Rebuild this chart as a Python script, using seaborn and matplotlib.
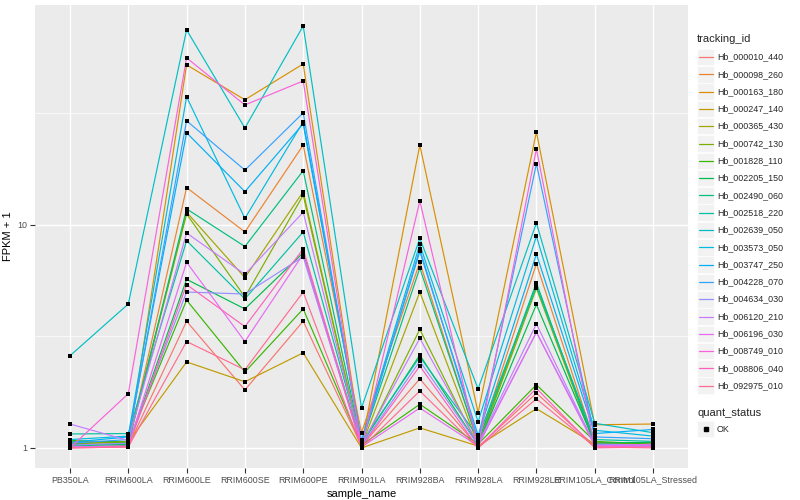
import matplotlib
matplotlib.use("Agg")
import matplotlib.pyplot as plt
import seaborn as sns
import pandas as pd
from matplotlib.patches import Rectangle
from matplotlib.ticker import FixedLocator, NullFormatter

# ---- datos (FPKM + 1) ----
sample_names = ["PB350LA", "RRIM600LA", "RRIM600LE", "RRIM600SE", "RRIM600PE",
                "RRIM901LA", "RRIM928BA", "RRIM928LA", "RRIM928LE",
                "RRIM105LA_Control", "RRIM105LA_Stressed"]

tracking_ids = ["Hb_000010_440", "Hb_000098_260", "Hb_000163_180", "Hb_000247_140",
                "Hb_000365_430", "Hb_000742_130", "Hb_001828_110", "Hb_002205_150",
                "Hb_002490_060", "Hb_002518_220", "Hb_002639_050", "Hb_003573_050",
                "Hb_003747_250", "Hb_004228_070", "Hb_004634_030", "Hb_006120_210",
                "Hb_006196_030", "Hb_008749_010", "Hb_008806_040", "Hb_092975_010"]

hb_000010_440 = [1.01, 1.02, 3.7, 1.82, 3.7, 1.02, 2.04, 1.01, 1.76, 1.02, 1.03]
hb_000098_260 = [1.03, 1.04, 14.7, 9.3, 22.8, 1.17, 6.8, 1.05, 6.7, 1.06, 1.04]
hb_000163_180 = [1.05, 1.03, 52.2, 36.4, 52.7, 1.03, 22.8, 1.44, 26.1, 1.27, 1.28]
hb_000247_140 = [1.07, 1.06, 2.43, 1.98, 2.67, 1.00, 1.23, 1.02, 1.50, 1.04, 1.06]
hb_000365_430 = [1.04, 1.07, 11.4, 5.8, 14.1, 1.02, 5.0, 1.03, 5.4, 1.05, 1.03]
hb_000742_130 = [1.06, 1.05, 11.2, 4.75, 13.6, 1.01, 3.4, 1.02, 5.2, 1.03, 1.05]
hb_001828_110 = [1.08, 1.06, 4.6, 2.19, 4.2, 1.03, 1.57, 1.04, 1.92, 1.07, 1.04]
hb_002205_150 = [1.04, 1.03, 5.7, 4.2, 7.5, 1.04, 2.61, 1.03, 4.4, 1.05, 1.06]
hb_002490_060 = [1.02, 1.04, 11.8, 8.0, 17.5, 1.05, 6.4, 1.06, 5.5, 1.04, 1.02]
hb_002518_220 = [1.155, 1.16, 8.5, 4.66, 9.3, 1.06, 2.56, 1.12, 5.3, 1.09, 1.07]
hb_002639_050 = [2.59, 4.42, 74.9, 27.2, 78.0, 1.51, 8.7, 1.84, 10.2, 1.29, 1.17]
hb_003573_050 = [1.09, 1.13, 37.5, 10.7, 29.0, 1.08, 8.2, 1.31, 8.9, 1.20, 1.13]
hb_003747_250 = [1.06, 1.12, 25.9, 14.1, 28.4, 1.06, 7.6, 1.14, 7.4, 1.16, 1.21]
hb_004228_070 = [1.05, 1.09, 29.3, 17.6, 31.8, 1.04, 7.8, 1.09, 18.8, 1.12, 1.10]
hb_004634_030 = [1.03, 1.05, 5.0, 4.9, 7.2, 1.02, 2.45, 1.03, 3.3, 1.04, 1.03]
hb_006120_210 = [1.28, 1.08, 9.2, 6.0, 11.4, 1.03, 3.1, 1.04, 3.6, 1.03, 1.02]
hb_006196_030 = [1.01, 1.02, 6.8, 3.0, 7.4, 1.01, 1.51, 1.02, 3.3, 1.02, 1.04]
hb_008749_010 = [1.00, 1.75, 56.1, 34.5, 44.2, 1.00, 12.8, 1.01, 21.9, 1.01, 1.02]
hb_008806_040 = [1.00, 1.01, 5.4, 3.5, 7.8, 1.01, 2.33, 1.00, 1.85, 1.00, 1.01]
hb_092975_010 = [1.00, 1.01, 3.0, 2.24, 5.0, 1.00, 1.80, 1.00, 1.66, 1.01, 1.00]

series = [hb_000010_440, hb_000098_260, hb_000163_180, hb_000247_140, hb_000365_430,
          hb_000742_130, hb_001828_110, hb_002205_150, hb_002490_060, hb_002518_220,
          hb_002639_050, hb_003573_050, hb_003747_250, hb_004228_070, hb_004634_030,
          hb_006120_210, hb_006196_030, hb_008749_010, hb_008806_040, hb_092975_010]

# paleta hue de ggplot para 20 niveles
colors = ["#F8766D", "#EA8331", "#D89000", "#C09B00", "#A3A500", "#7CAE00", "#39B600",
          "#00BB4E", "#00BF7D", "#00C1A3", "#00BFC4", "#00BAE0", "#00B0F6", "#35A2FF",
          "#9590FF", "#C77CFF", "#E76BF3", "#FA62DB", "#FF62BC", "#FF6C91"]

rows = []
for tid, vals in zip(tracking_ids, series):
    for i, (s, v) in enumerate(zip(sample_names, vals)):
        rows.append({"tracking_id": tid, "sample_name": s, "pos": i,
                     "fpkm": v, "quant_status": "OK"})
df = pd.DataFrame(rows)

# ---- estilo ----
sns.set_theme(style="darkgrid")
plt.rcParams["font.family"] = ["Liberation Sans", "DejaVu Sans"]

fig = plt.figure(figsize=(8, 5), dpi=100)
ax = fig.add_axes([35 / 800, 32 / 500, 653 / 800, 463 / 500])
ax.set_facecolor("#EBEBEB")

sns.lineplot(data=df, x="pos", y="fpkm", hue="tracking_id", palette=colors,
             estimator=None, linewidth=0.85, legend=False, ax=ax, zorder=2)
sns.scatterplot(data=df, x="pos", y="fpkm", color="black", marker="s", s=10,
                linewidth=0, legend=False, ax=ax, zorder=3)

ax.set_yscale("log")
ax.set_ylim(10 ** -0.09, 10 ** 1.986)
ax.set_xlim(-0.6, len(sample_names) - 0.4)
ax.set_xticks(range(len(sample_names)))
ax.set_xticklabels(sample_names)
ax.set_yticks([1, 10])
ax.set_yticklabels(["1", "10"])
ax.yaxis.set_minor_locator(FixedLocator([10 ** 0.5, 10 ** 1.5]))
ax.yaxis.set_minor_formatter(NullFormatter())

ax.grid(which="major", color="white", linewidth=1.0)
ax.grid(which="minor", axis="y", color="white", linewidth=0.5)
ax.set_axisbelow(True)
for sp in ax.spines.values():
    sp.set_visible(False)
ax.tick_params(which="major", length=3.5, width=0.8, color="#333333",
               labelcolor="#4D4D4D", labelsize=6.4, pad=2, bottom=True, left=True)
ax.tick_params(which="minor", length=0)
ax.set_xlabel("sample_name", fontsize=8, color="black", labelpad=3)
ax.set_ylabel("FPKM + 1", fontsize=8, color="black", labelpad=3)

# ---- leyendas (estilo ggplot, en pixeles) ----
lg = fig.add_axes([0, 0, 1, 1], zorder=5)
lg.set_xlim(0, 800)
lg.set_ylim(500, 0)
lg.axis("off")
lg.patch.set_alpha(0)

lg.text(697, 42, "tracking_id", fontsize=8, va="baseline", ha="left")
y0, step = 57, 17.3
for k, (tid, col) in enumerate(zip(tracking_ids, colors)):
    yc = y0 + k * step
    lg.add_patch(Rectangle((697, yc - 8.3), 17, 16.6, facecolor="#F2F2F2",
                           edgecolor="white", linewidth=0.5))
    lg.plot([698.5, 712.5], [yc, yc], color=col, linewidth=0.9)
    lg.text(717, yc, tid, fontsize=6.4, va="center", ha="left")

lg.text(697, 416, "quant_status", fontsize=8, va="baseline", ha="left")
lg.add_patch(Rectangle((697, 429 - 8.3), 17, 16.6, facecolor="#F2F2F2",
                       edgecolor="white", linewidth=0.5))
lg.plot([705.5], [429], marker="s", color="black", markersize=3, linestyle="none")
lg.text(717, 429, "OK", fontsize=6.4, va="center", ha="left")

fig.savefig("out.png", dpi=100, facecolor="white")
plt.close(fig)
